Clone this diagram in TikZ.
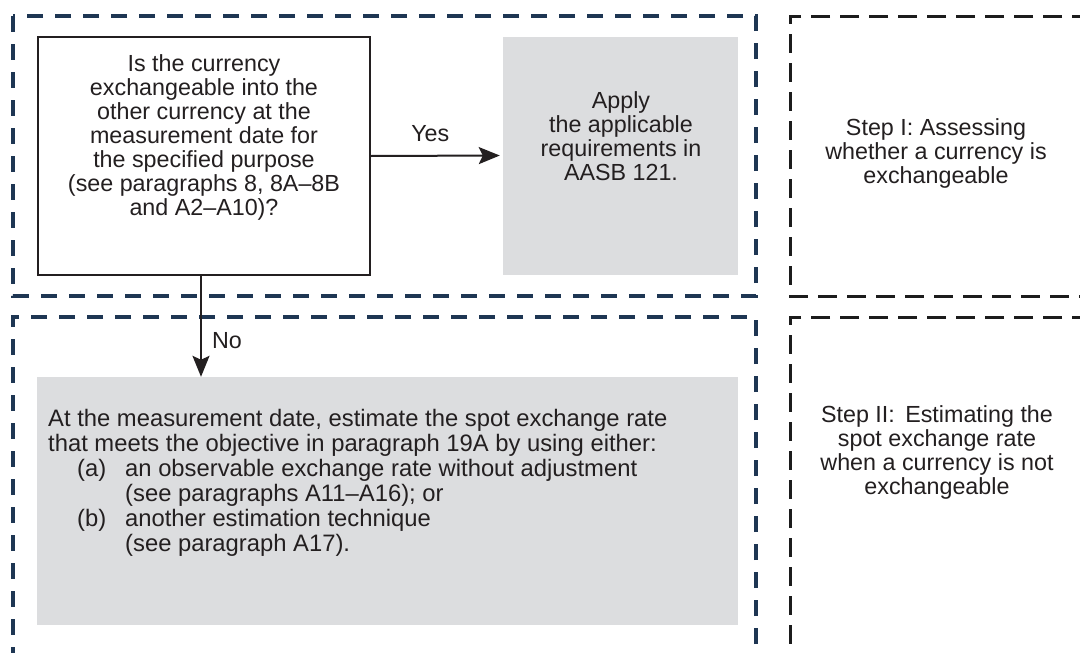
\documentclass[tikz,border=0pt]{standalone}
\usepackage{fontspec}
\setmainfont{Liberation Sans}
\usetikzlibrary{arrows.meta}
\definecolor{navy}{HTML}{1E3653}
\definecolor{boxgrey}{HTML}{DCDDDF}
\definecolor{ink}{HTML}{231F20}
\definecolor{darkdash}{HTML}{1C1C1C}
\tikzset{
  navyframe/.style={draw=navy, line width=3.3pt, dash pattern=on 16pt off 12pt},
  blackframe/.style={draw=darkdash, line width=3pt, dash pattern=on 19pt off 10pt},
  txt/.style={text=ink, inner sep=0pt, font=\fontsize{23.3}{24}\selectfont},
  bigtxt/.style={text=ink, inner sep=0pt, font=\fontsize{23.8}{25}\selectfont},
  sidetxt/.style={text=ink, inner sep=0pt, align=center, font=\fontsize{23.3}{24}\selectfont},
  qbox/.style={draw=ink, line width=2pt, fill=white, inner sep=0pt},
  greybox/.style={fill=boxgrey, draw=none, inner sep=0pt},
  flow/.style={draw=ink, line width=2pt, -{Stealth[length=21pt, width=17pt, inset=4pt]}},
  lbl/.style={text=ink, inner sep=0pt, font=\fontsize{23.3}{24}\selectfont}
}
\begin{document}
\begin{tikzpicture}[x=1pt, y=-1pt]
\useasboundingbox (0,0) rectangle (1080,653);
\clip (0,0) rectangle (1080,653);
\fill[white] (0,0) rectangle (1080,653);

% frames
\draw[navyframe] (13,16) rectangle (756,296);
\draw[navyframe] (756,700) -- (756,317) -- (13,317) -- (13,700);
\draw[blackframe] (1120,16) -- (790,16) -- (790,296) -- (1120,296);
\draw[blackframe] (1120,317) -- (790,317) -- (790,700);

% boxes
\node[qbox, minimum width=332pt, minimum height=238pt] (q) at (204,156) {};
\node[txt, align=center, anchor=north] (qt) at (204,54) {Is the currency\\exchangeable into the\\other currency at the\\measurement date for\\the specified purpose\\(see paragraphs 8, 8A–8B\\and A2–A10)?};

\node[greybox, minimum width=235pt, minimum height=238pt] (apply) at (620.5,155.5) {};
\node[txt, align=center, anchor=north] (applyt) at (621,91) {Apply\\the applicable\\requirements in\\AASB 121.};

\node[greybox, minimum width=701pt, minimum height=248pt] (est) at (387.5,501) {};
\node[bigtxt, align=left, anchor=north west] (estt) at (48,409) {At the measurement date, estimate the spot exchange rate\\
that meets the objective in paragraph 19A by using either:\\
\hspace*{29pt}\makebox[48pt][l]{(a)}an observable exchange rate without adjustment\\
\hspace*{77pt}(see paragraphs A11–A16); or\\
\hspace*{29pt}\makebox[48pt][l]{(b)}another estimation technique\\
\hspace*{77pt}(see paragraph A17).};

\node[sidetxt, anchor=north] (step1) at (936,118) {Step I: Assessing\\whether a currency is\\exchangeable};
\node[sidetxt, anchor=north] (step2) at (937,405) {Step II:\ \,Estimating the\\spot exchange rate\\when a currency is not\\exchangeable};

% connectors
\draw[flow, shorten >=3pt] (q.east) -- (apply.west) node[lbl, pos=0.45, above=13pt] (yes) {Yes};
\draw[flow] ([xshift=-3pt]q.south) -- ([xshift=-3pt]q.south |- est.north) node[lbl, pos=0.64, right=10pt] (no) {No};
\end{tikzpicture}
\end{document}
